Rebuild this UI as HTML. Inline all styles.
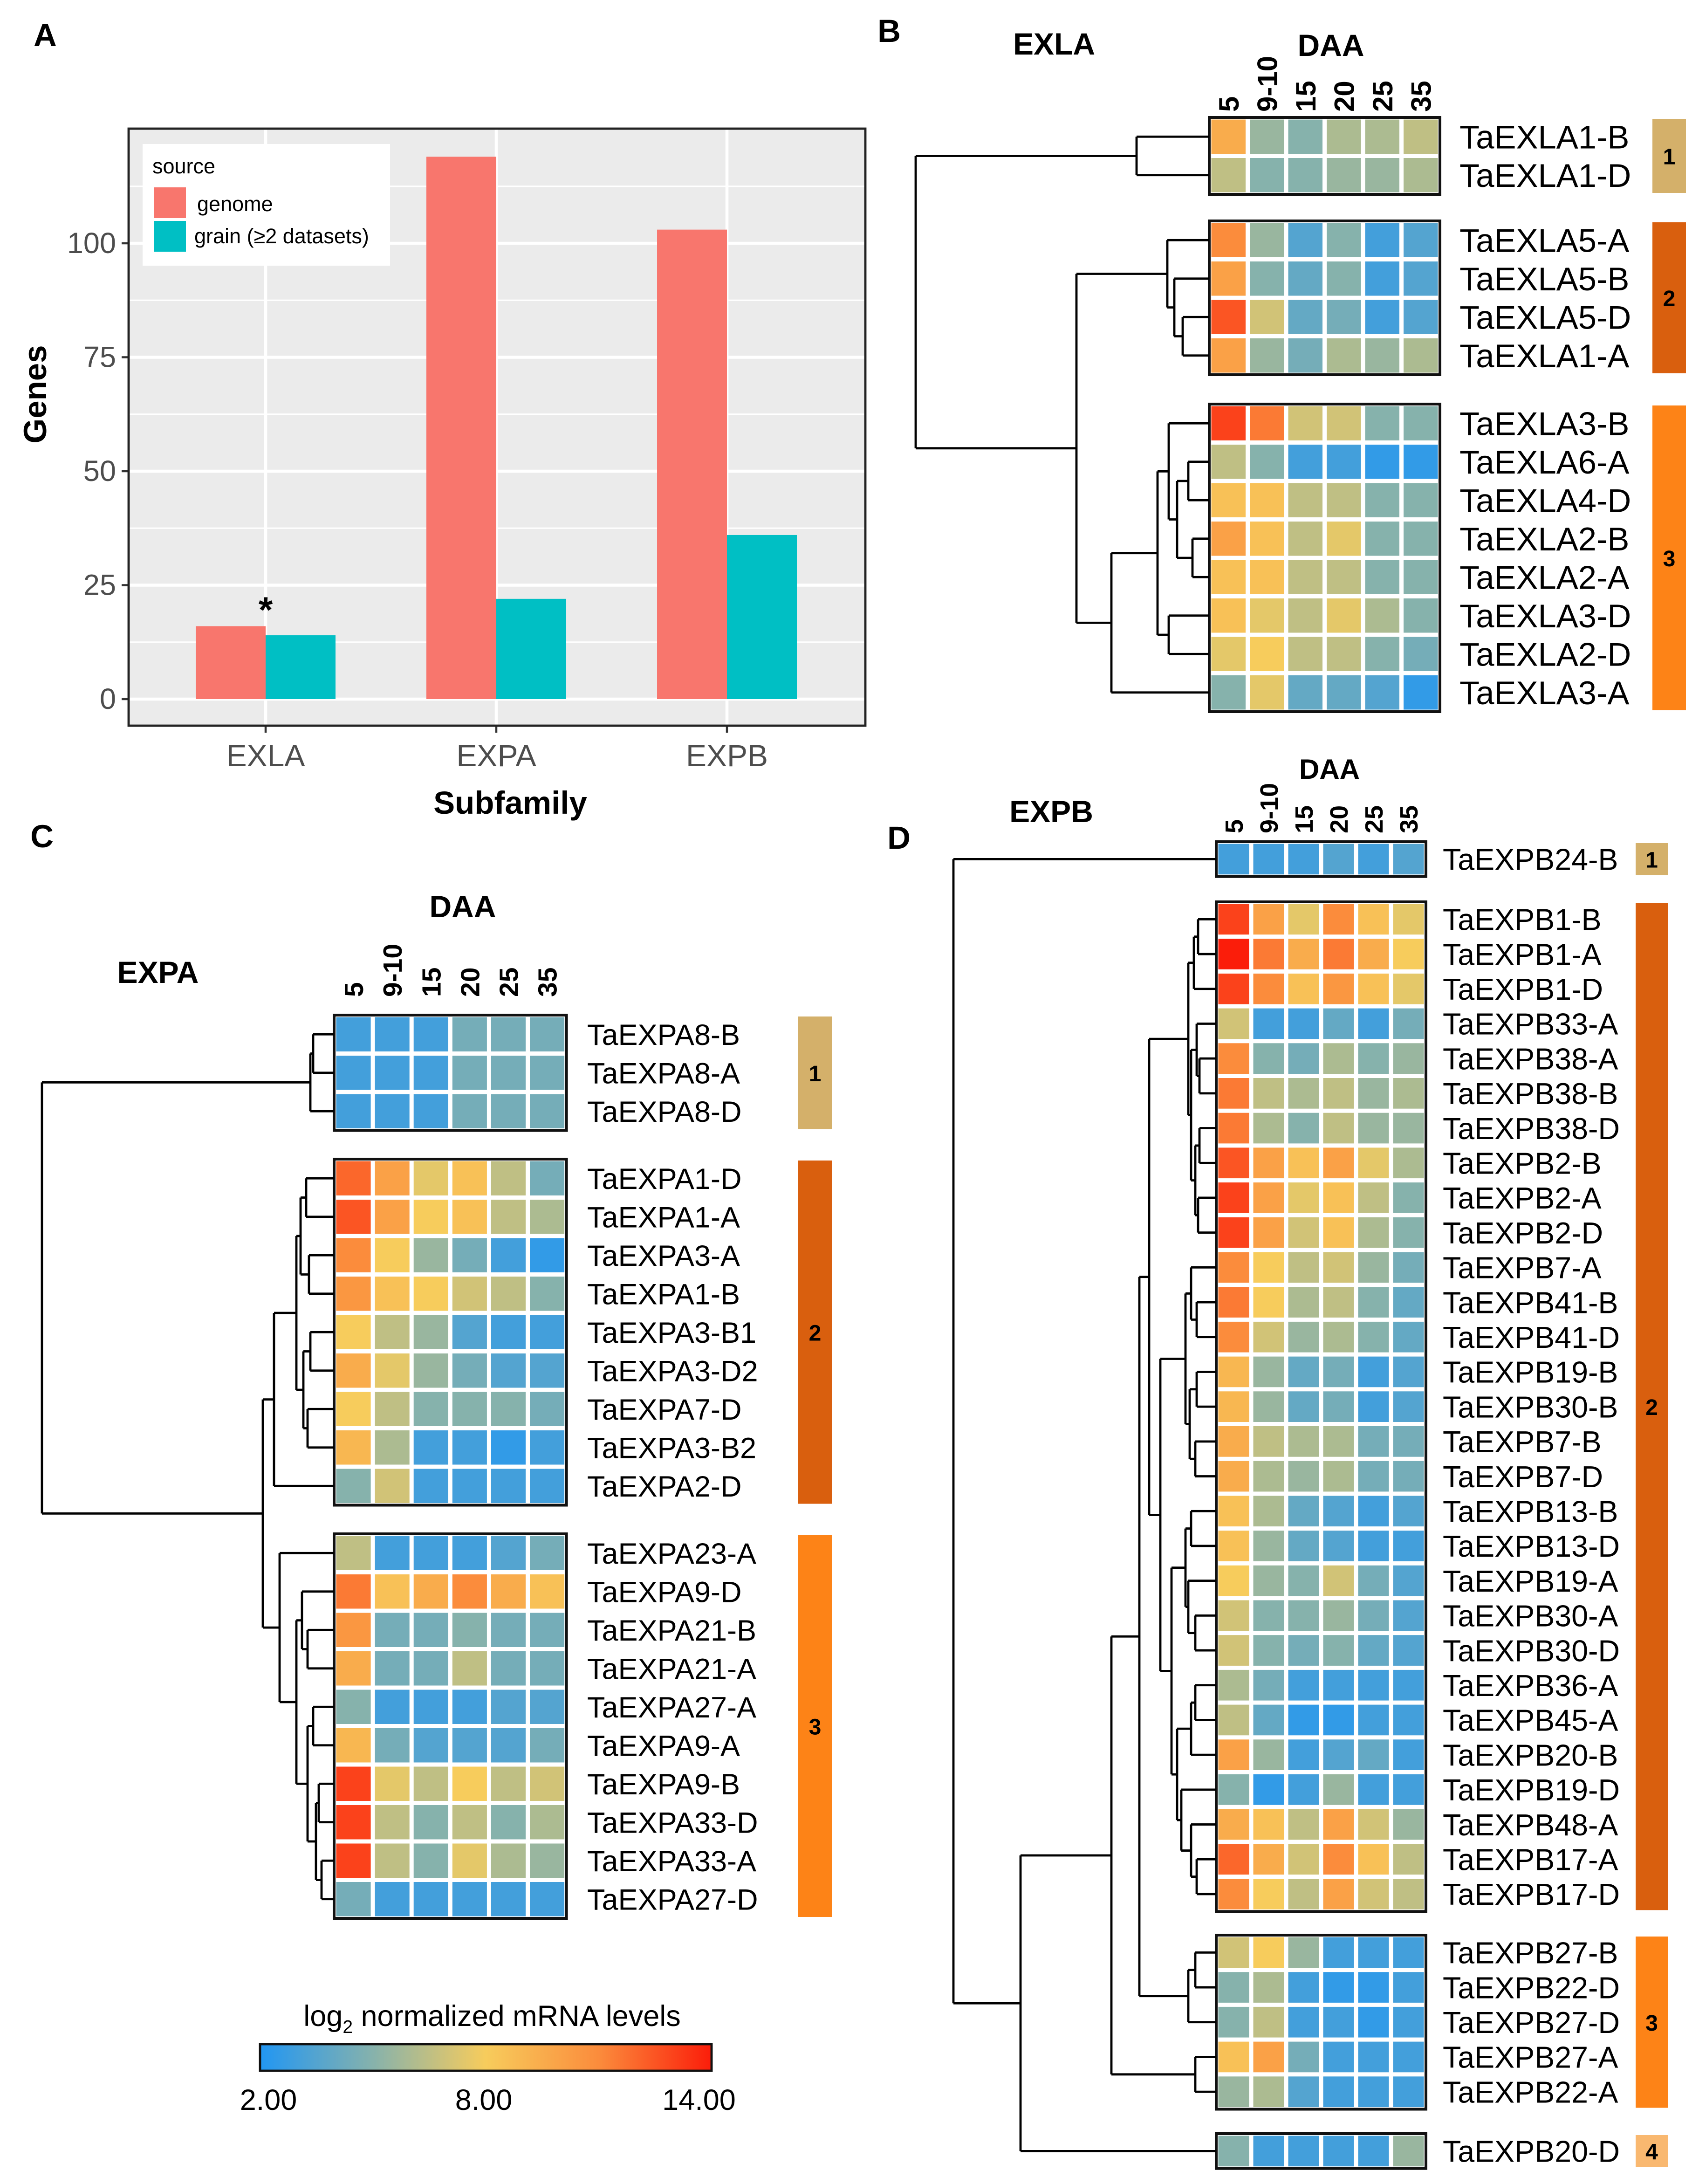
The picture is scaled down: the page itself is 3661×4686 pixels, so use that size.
<!DOCTYPE html>
<html><head><meta charset="utf-8">
<style>
html,body{margin:0;padding:0;background:#fff;}
svg{display:block;}
text{font-family:"Liberation Sans",Arial,sans-serif;}
</style></head>
<body>
<svg id="fig" xmlns="http://www.w3.org/2000/svg" width="3661" height="4686" viewBox="0 0 1220.33 1562">
<defs>
<linearGradient id="cbar" x1="0" x2="1" y1="0" y2="0">
<stop offset="0" stop-color="#2196f3"/>
<stop offset="0.25" stop-color="#86b2ac"/>
<stop offset="0.5" stop-color="#f7cc5c"/>
<stop offset="0.75" stop-color="#fb8c3c"/>
<stop offset="1" stop-color="#fb1d0a"/>
</linearGradient>
</defs>
<g id="panelA"></g>
<g id="panelB"></g>
<g id="panelC"></g>
<g id="panelD"></g>
<g id="legendCB"></g>
</svg>
<script>
// ---------- Panel A data ----------
const barCategories = ["EXLA","EXPA","EXPB"];
const genomeValues = [16,119,103];
const grainValues = [14,22,36];
const yTicks = [0,25,50,75,100];

// ---------- Heatmap data ----------
const daaLabels = ["5","9-10","15","20","25","35"];
const exlaGenes = ["TaEXLA1-B","TaEXLA1-D","TaEXLA5-A","TaEXLA5-B","TaEXLA5-D","TaEXLA1-A","TaEXLA3-B","TaEXLA6-A","TaEXLA4-D","TaEXLA2-B","TaEXLA2-A","TaEXLA3-D","TaEXLA2-D","TaEXLA3-A"];
const exlaGroups = [2,4,8];
const exlaValues = [
[9.5,5.5,5,6,6,6.5],[6.5,5,5,5.5,5.5,6],
[11,5.5,3.5,5,3,3.5],[10,5,4,5,3,3.5],[12.5,7,4,4.5,3,3.5],[10,5.5,4.5,6,5.5,6],
[13,11.5,7,7,5,5],[6.5,5,3,3,2.5,2.5],[8.5,8.5,6.5,6.5,5,5],[10,8.5,6.5,7.5,5,5],[8.5,8.5,6.5,6.5,5,5],[8.5,7.5,6.5,7.5,6,5],[7.5,8,6.5,6.5,5,4.5],[5,7.5,4,4,3.5,2.5]];
const expaGenes = ["TaEXPA8-B","TaEXPA8-A","TaEXPA8-D","TaEXPA1-D","TaEXPA1-A","TaEXPA3-A","TaEXPA1-B","TaEXPA3-B1","TaEXPA3-D2","TaEXPA7-D","TaEXPA3-B2","TaEXPA2-D","TaEXPA23-A","TaEXPA9-D","TaEXPA21-B","TaEXPA21-A","TaEXPA27-A","TaEXPA9-A","TaEXPA9-B","TaEXPA33-D","TaEXPA33-A","TaEXPA27-D"];
const expaGroups = [3,9,10];
const expaValues = [
[3,3,3,4.5,4.5,4.5],[3,3,3,4.5,4.5,4.5],[3,3,3,4.5,4.5,4.5],
[12,10,7.5,8.5,6.5,4.5],[12.5,10,8,8.5,6.5,6],[11,8,5.5,4.5,3,2.5],[10.5,8.5,8,7,6.5,5],[8,6.5,5.5,3.5,3,3],[9.5,7.5,5.5,4.5,3.5,3.5],[8,6.5,5,5,5,4.5],[9,6,3,3,2.5,3],[5,7,3,3,3,3],
[6.5,3,3,3,3.5,4.5],[11.5,8.5,9.5,11,9.5,8.5],[10.5,4.5,4.5,5,4.5,4.5],[9.5,4.5,4.5,6.5,4.5,4.5],[5,3,3,3,3.5,3.5],[9,4.5,3.5,3.5,3.5,4.5],[13,7.5,6.5,8,6.5,7],[13,6.5,5,6.5,5,6],[13,6.5,5,7.5,6,5.5],[4.5,3,3,3,3,3]];
const expbGenes = ["TaEXPB24-B","TaEXPB1-B","TaEXPB1-A","TaEXPB1-D","TaEXPB33-A","TaEXPB38-A","TaEXPB38-B","TaEXPB38-D","TaEXPB2-B","TaEXPB2-A","TaEXPB2-D","TaEXPB7-A","TaEXPB41-B","TaEXPB41-D","TaEXPB19-B","TaEXPB30-B","TaEXPB7-B","TaEXPB7-D","TaEXPB13-B","TaEXPB13-D","TaEXPB19-A","TaEXPB30-A","TaEXPB30-D","TaEXPB36-A","TaEXPB45-A","TaEXPB20-B","TaEXPB19-D","TaEXPB48-A","TaEXPB17-A","TaEXPB17-D","TaEXPB27-B","TaEXPB22-D","TaEXPB27-D","TaEXPB27-A","TaEXPB22-A","TaEXPB20-D"];
const expbGroups = [1,29,5,1];
const expbValues = [
[3,3,3,3.5,3,3.5],
[13,10,7.5,11,8.5,7.5],[14,11.5,9.5,11.5,9.5,8],[13,11,8.5,10.5,8.5,7.5],[7,3,3,4,3,4.5],[11,5,4.5,6,5,5.5],[11.5,6.5,6,6.5,5.5,6],[11.5,6,5,6.5,5.5,5.5],[12.5,10,8.5,10,7.5,6],[13,10,7.5,8.5,6.5,5],[13,10,7,8.5,6,5],[11,8,6.5,7,5.5,4.5],[11.5,8,6,6.5,5,4],[11,7,5.5,6,5,4],[9,5.5,4,4.5,3,3.5],[9,5.5,4,4.5,3,3.5],[9.5,6.5,6,6,4.5,4.5],[9.5,6,5.5,6,4.5,4.5],[8.5,6,4,3.5,3,3.5],[8.5,5.5,4,3.5,3,3],[8,5.5,5,7,4.5,3.5],[7,5,5,5.5,4.5,3.5],[7,5,4.5,5,4,3.5],[6,4.5,3,3,3,3],[6.5,4,2.5,2.5,3,3],[10,5.5,3,3.5,4,3],[5,2.5,3,5.5,3,3],[9.5,8.5,6.5,10,7,5.5],[12,9.5,7,11,8.5,6.5],[11,8,6.5,10,7,6.5],
[7,8,5.5,3,3,3],[5,6,3,2.5,2.5,3],[5,6.5,3,3,2.5,3],[8.5,10,4.5,3,3,3],[5.5,6,3.5,3,3,3],
[5,3,3,3,3,5.5]];
const scaleTicks = ["2.00","8.00","14.00"];

const NS="http://www.w3.org/2000/svg";
function mk(parent,tag,attrs,txt){const e=document.createElementNS(NS,tag);for(const k in attrs)e.setAttribute(k,attrs[k]);if(txt!==undefined)e.textContent=txt;parent.appendChild(e);return e;}

const stops=[[2,[33,150,243]],[5,[134,178,172]],[8,[247,204,92]],[11,[251,140,60]],[14,[251,29,10]]];
function col(v){v=Math.max(2,Math.min(14,v));for(let i=0;i<stops.length-1;i++){const a=stops[i],b=stops[i+1];if(v<=b[0]){const t=(v-a[0])/(b[0]-a[0]);const c=a[1].map((x,j)=>Math.round(x+(b[1][j]-x)*t));return `rgb(${c[0]},${c[1]},${c[2]})`;}}return "rgb(251,29,10)";}

// ---------- Panel A ----------
(function(){
const g=document.getElementById('panelA');
const x0=92,x1=619,yTop=92,yBot=519;
const yScale=v=>500-v*3.26;
const catX=i=>190+i*165;
mk(g,'rect',{x:x0,y:yTop,width:x1-x0,height:yBot-yTop,fill:'#ebebeb'});
for(let v=12.5;v<=112.5;v+=25){mk(g,'line',{x1:x0,x2:x1,y1:yScale(v),y2:yScale(v),stroke:'#fff','stroke-width':1});}
yTicks.forEach(v=>{
 const gl=mk(g,'line',{x1:x0,x2:x1,y1:yScale(v),y2:yScale(v),stroke:'#fff','stroke-width':2.2});
 
 
 mk(g,'line',{x1:x0-5,x2:x0,y1:yScale(v),y2:yScale(v),stroke:'#333','stroke-width':1.5});
 const t=mk(g,'text',{x:x0-9,y:yScale(v)+7,'text-anchor':'end','font-size':21,fill:'#4d4d4d'},String(v));
 
 
});
barCategories.forEach((c,i)=>{
 mk(g,'line',{x1:catX(i),x2:catX(i),y1:yTop,y2:yBot,stroke:'#fff','stroke-width':2.2});
 const b1=mk(g,'rect',{x:catX(i)-50,y:yScale(genomeValues[i]),width:50,height:yScale(0)-yScale(genomeValues[i]),fill:'#f8766d'});
 
 
 const b2=mk(g,'rect',{x:catX(i),y:yScale(grainValues[i]),width:50,height:yScale(0)-yScale(grainValues[i]),fill:'#00bfc4'});
 
 
 mk(g,'line',{x1:catX(i),x2:catX(i),y1:yBot,y2:yBot+5,stroke:'#333','stroke-width':1.5});
 const t=mk(g,'text',{x:catX(i),y:548,'text-anchor':'middle','font-size':22,fill:'#4d4d4d'},c);
 
 
});
mk(g,'rect',{x:x0,y:yTop,width:x1-x0,height:yBot-yTop,fill:'none',stroke:'#222','stroke-width':1.6});
const ast=mk(g,'text',{x:190,y:445,'text-anchor':'middle','font-size':26,'font-weight':'bold'},'*');


const xt=mk(g,'text',{x:365,y:582,'text-anchor':'middle','font-size':23,'font-weight':'bold'},'Subfamily');


const yt=mk(g,'text',{x:0,y:0,'text-anchor':'middle','font-size':23,'font-weight':'bold',transform:'translate(33,282) rotate(-90)'},'Genes');


const lg=mk(g,'g',{});


mk(lg,'rect',{x:102,y:103,width:177,height:87,fill:'#fff'});
mk(lg,'text',{x:109,y:124,'font-size':15},'source');
mk(lg,'rect',{x:110,y:134,width:23,height:22,fill:'#f8766d'});
mk(lg,'rect',{x:110,y:158,width:23,height:22,fill:'#00bfc4'});
mk(lg,'text',{x:141,y:151,'font-size':15},'genome');
mk(lg,'text',{x:139,y:174,'font-size':15},'grain (\u22652 datasets)');
const la=mk(g,'text',{x:24,y:33,'font-size':23,'font-weight':'bold'},'A');


})();

function heatmap(cfg){
 const g=document.getElementById(cfg.id);
 const {hx,cw,groupTops,rh,labels,values,groups,barX,barW,barColors,font,labelX}=cfg;
 const rowY=[];let idx=0;
 groups.forEach((n,gi)=>{
  const top=groupTops[gi];
  const box=mk(g,'g',{});
  
  
  for(let r=0;r<n;r++){
   const y=top+r*rh;rowY.push(y+rh/2);
   values[idx].forEach((v,c)=>{
    const cell=mk(box,'rect',{x:hx+c*cw+1.5,y:y+1.5,width:cw-3,height:rh-3,fill:col(v)});
    
    
   });
   const t=mk(g,'text',{x:labelX,y:y+rh/2+font*0.36,'font-size':font},labels[idx]);
   
   
   idx++;
  }
  mk(box,'rect',{x:hx,y:top,width:cw*6,height:n*rh,fill:'none',stroke:'#111','stroke-width':2});
  const bar=mk(g,'rect',{x:barX,y:top+1,width:barW,height:n*rh-2,fill:barColors[gi]});
  
  
  const bt=mk(g,'text',{x:barX+barW/2,y:top+n*rh/2+6,'text-anchor':'middle','font-size':16,'font-weight':'bold'},String(gi+1));
  
  
 });
 daaLabels.forEach((d,c)=>{
  const t=mk(g,'text',{x:0,y:0,'font-size':cfg.hfont,'font-weight':'bold',transform:`translate(${hx+c*cw+cw/2+cfg.hfont*0.36},${cfg.hbot}) rotate(-90)`},d);
  
  
 });
 const dg=mk(g,'g',{fill:'none',stroke:'#000','stroke-width':1.6});
 
 
 function draw(node){
  if(typeof node==='number') return {x:hx,y:rowY[node]};
  const x=node[0];const ch=node.slice(1).map(draw);
  const ys=ch.map(c=>c.y);const y=(Math.min(...ys)+Math.max(...ys))/2;
  mk(dg,'line',{x1:x,x2:x,y1:Math.min(...ys),y2:Math.max(...ys)});
  ch.forEach(c=>mk(dg,'line',{x1:x,x2:c.x,y1:c.y,y2:c.y}));
  return {x,y};
 }
 draw(cfg.tree);
}

heatmap({id:'panelB',hx:865,cw:27.5,rh:27.5,groupTops:[84,158,289],labels:exlaGenes,values:exlaValues,groups:exlaGroups,
 barX:1182,barW:24,barColors:['#d4b06a','#d95f0e','#fd8317'],font:23.5,labelX:1044,hfont:20,hbot:80,
 tree:[655,[813,0,1],[770,[835,2,[840,3,[846,4,5]]],[795,[828,[836,6,[842,[850,7,8],[853,9,10]]],[836,11,12]],13]]]});
heatmap({id:'panelC',hx:239,cw:27.7,rh:27.5,groupTops:[726,829,1097],labels:expaGenes,values:expaValues,groups:expaGroups,
 barX:571,barW:24,barColors:['#d4b06a','#d95f0e','#fd8317'],font:21,labelX:420,hfont:19,hbot:713,
 tree:[30,[222,[224,0,1],2],[188,[196,[212,[215,[219,3,4],[221,5,6]],[217,[222,7,8],[220,9,10]]],11],[200,12,[212,[216,13,[220,14,15]],[220,[224,16,17],[226,[228,18,19],[230,20,21]]]]]]]});
heatmap({id:'panelD',hx:870,cw:25,rh:24.9,groupTops:[602,645,1384,1526],labels:expbGenes,values:expbValues,groups:expbGroups,
 barX:1170,barW:23,barColors:['#d4b06a','#d95f0e','#fd8317','#f9b870'],font:21.5,labelX:1032,hfont:18,hbot:596,
 tree:[682,0,[730,[795,[815,[822,[850,[854,[857,1,2],3],[852,[856,4,[858,5,6]],[855,[858,7,8],[857,9,10]]]],[830,[848,[852,11,[856,12,13]],[851,[856,14,15],[855,16,17]]],[838,[848,[852,18,19],[850,20,[855,21,22]]],[842,[852,[855,23,24],25],[845,26,[852,27,[856,28,29]]]]]]],[820,[850,[855,30,31],32]]],[855,33,34]],35]]});

(function(){
 const add=(id,x,y,s,txt,name)=>{const t=mk(document.getElementById(id),'text',{x,y,'font-size':s,'font-weight':'bold','text-anchor':'middle'},txt);};
 add('panelB',754,39,22,'EXLA','subfamily-title');
 add('panelB',952,40,22,'DAA','daa-title');
 add('panelB',636,30,23,'B','panel-label-b');
 add('panelC',113,703,22,'EXPA','subfamily-title');
 add('panelC',331,656,22,'DAA','daa-title');
 add('panelC',30,606,23,'C','panel-label-c');
 add('panelD',752,588,22,'EXPB','subfamily-title');
 add('panelD',951,557,20,'DAA','daa-title');
 add('panelD',643,607,23,'D','panel-label-d');
})();

(function(){
 const g=document.getElementById('legendCB');
 const t=mk(g,'text',{x:352,y:1449,'text-anchor':'middle','font-size':21},'');
 
 
 mk(t,'tspan',{},'log');mk(t,'tspan',{'font-size':13,dy:5},'2');mk(t,'tspan',{dy:-5},' normalized mRNA levels');
 const r=mk(g,'rect',{x:186,y:1462,width:323,height:19,fill:'url(#cbar)',stroke:'#111','stroke-width':1.6});
 
 
 const px=[192,346,500];
 scaleTicks.forEach((s,i)=>{const tt=mk(g,'text',{x:px[i],y:1509,'text-anchor':'middle','font-size':21},s);
  
  });
})();
</script>
</body></html>
